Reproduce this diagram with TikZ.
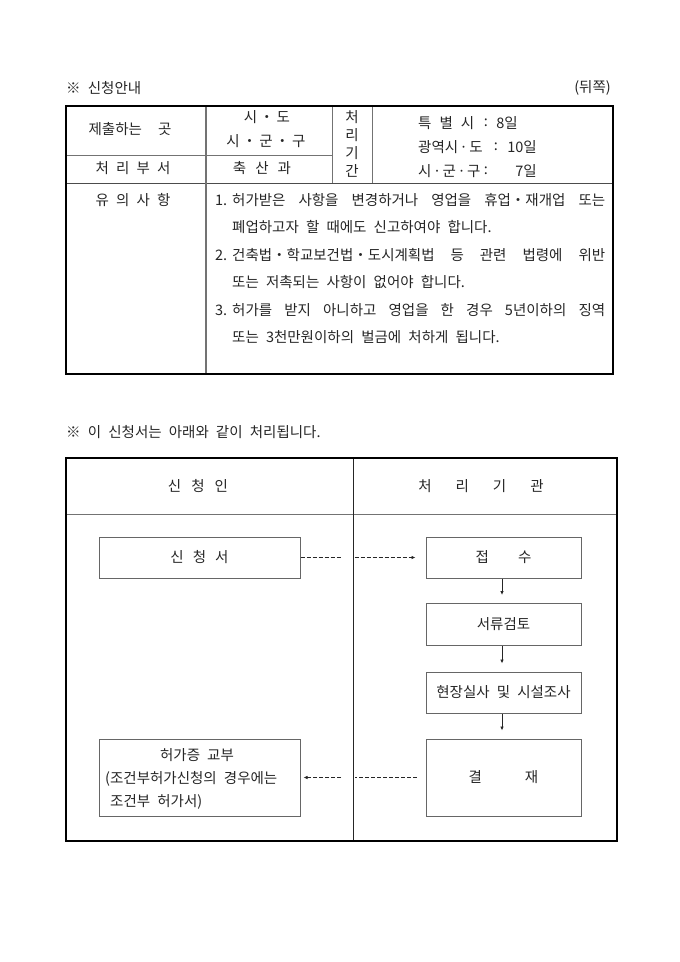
\documentclass[tikz,border=0pt]{standalone}
\usepackage{fontspec}
\setmainfont{Noto Sans CJK KR}[WordSpace=2.2]
\usetikzlibrary{arrows.meta}
\newcommand{\md}{\hspace{2.5pt}・\hspace{2.5pt}}
\newcommand{\sd}{\hspace{1.5pt}·\hspace{1.5pt}}
\begin{document}
\begin{tikzpicture}[x=1pt,y=-1pt,
  font=\fontsize{14.5}{17}\selectfont,
  txt/.style={inner sep=0pt, text=black!85},
  frame/.style={draw=black, line width=1.6pt},
  grid/.style={draw=black!55, line width=1pt},
  flowbox/.style={draw=black!60, line width=1pt, inner sep=0pt, text=black!85, minimum width=155pt, minimum height=41pt},
  conn/.style={draw=black!85, line width=0.8pt, dash pattern=on 4pt off 2pt},
  arr/.style={draw=black!85, line width=0.8pt, -{Latex[length=4pt,width=3.5pt]}}]
\useasboundingbox (0,0) rectangle (680,962);
\fill[white] (0,0) rectangle (680,962);

% ---------- Section 1 ----------
\node[txt, anchor=west] (t1) at (66,88) {※ 신청안내};
\node[txt, anchor=east] (t1r) at (611,88) {(뒤쪽)};

\draw[grid] (66,155) -- (332,155);
\draw[grid, draw=black!70] (66,183) -- (613,183);
\draw[grid, line width=1.3pt] (206,106) -- (206,374);
\draw[grid] (332,106) -- (332,183);
\draw[grid] (372,106) -- (372,183);
\draw[frame] (66,106) rectangle (613,374);

\node[txt] (c1) at (130,129) {제출하는\hspace{16pt}곳};
\node[txt] (c2a) at (267,117) {시\md 도};
\node[txt] (c2b) at (266,141) {시\md 군\md 구};
\node[txt] (c3) at (133,168) {처 리 부 서};
\node[txt] (c4) at (262,168) {축\hspace{9pt}산\hspace{9pt}과};
\node[txt] (v1) at (352,117) {처};
\node[txt] (v2) at (352,135) {리};
\node[txt] (v3) at (352,153) {기};
\node[txt] (v4) at (352,171) {간};
\node[txt, anchor=west] (r1) at (418,123) {특\hspace{8pt}별\hspace{8pt}시};
\node[txt] (r1c) at (486,123) {:};
\node[txt, anchor=east] (r1d) at (518,123) {8일};
\node[txt, anchor=west] (r2) at (418,147) {광역시\sd 도};
\node[txt] (r2c) at (496,147) {:};
\node[txt, anchor=east] (r2d) at (537,147) {10일};
\node[txt, anchor=west] (r3) at (418,171) {시\sd 군\sd 구};
\node[txt] (r3c) at (486,171) {:};
\node[txt, anchor=east] (r3d) at (537,171) {7일};

\node[txt] (c5) at (133,200) {유 의 사 항};
\node[txt, anchor=west] (n1) at (215,200) {1.};
\node[txt, anchor=west] (l1) at (232,200) {\makebox[373pt][s]{허가받은 사항을 변경하거나 영업을 휴업・재개업 또는}};
\node[txt, anchor=west] (l2) at (232,227.5) {폐업하고자 할 때에도 신고하여야 합니다.};
\node[txt, anchor=west] (n2) at (215,255) {2.};
\node[txt, anchor=west] (l3) at (232,255) {\makebox[373pt][s]{건축법・학교보건법・도시계획법 등 관련 법령에 위반}};
\node[txt, anchor=west] (l4) at (232,282.5) {또는 저촉되는 사항이 없어야 합니다.};
\node[txt, anchor=west] (n3) at (215,310) {3.};
\node[txt, anchor=west] (l5) at (232,310) {\makebox[373pt][s]{허가를 받지 아니하고 영업을 한 경우 5년이하의 징역}};
\node[txt, anchor=west] (l6) at (232,337.5) {또는 3천만원이하의 벌금에 처하게 됩니다.};

% ---------- Section 2 ----------
\node[txt, anchor=west] (t2) at (66,432) {※ 이 신청서는 아래와 같이 처리됩니다.};
\draw[grid] (66,514) -- (617,514);
\draw[draw=black!85, line width=0.9pt] (353,458) -- (353,841);
\draw[frame] (66,458) rectangle (617,841);

\node[txt] (h1) at (198,486) {신\hspace{10pt}청\hspace{10pt}인};
\node[txt] (h2) at (481,486) {처\hspace{24pt}리\hspace{24pt}기\hspace{24pt}관};

\node[flowbox, minimum width=201pt] (app) at (199.5,557.5) {신\hspace{9pt}청\hspace{9pt}서};
\node[flowbox] (recv) at (503.5,557.5) {접\hspace{29pt}수};
\node[flowbox, minimum height=42pt] (rev) at (503.5,624.5) {서류검토};
\node[flowbox] (site) at (503.5,692.5) {현장실사 및 시설조사};
\node[flowbox, minimum height=77pt] (appr) at (503.5,777.5) {결\hspace{43pt}재};
\node[flowbox, minimum width=201pt, minimum height=77pt] (lic) at (199.5,777.5) {};
\node[txt] (lic1) at (197,755) {허가증 교부};
\node[txt, anchor=west] (lic2) at (105,779) {(조건부허가신청의 경우에는};
\node[txt, anchor=west] (lic3) at (110,802) {조건부 허가서)};

\coordinate (g1) at (341,557.5);
\coordinate (g2) at (354.5,557.5);
\coordinate (g3) at (341,777.5);
\coordinate (g4) at (354.5,777.5);

\draw[conn] (app.east) -- (g1);
\draw[conn, -{Latex[length=4pt,width=3.5pt]}, shorten >=10pt] (g2) -- (recv.west);
\draw[arr, shorten >=8pt] (recv.south -| 502,0) -- (rev.north -| 502,0);
\draw[arr, shorten >=8pt] (rev.south -| 502,0) -- (site.north -| 502,0);
\draw[arr, shorten >=8pt] (site.south -| 502,0) -- (appr.north -| 502,0);
\draw[conn, shorten <=9pt] (appr.west) -- (g4);
\draw[conn, -{Latex[length=4pt,width=3.5pt]}, shorten >=3pt] (g3) -- (lic.east);
\end{tikzpicture}
\end{document}
